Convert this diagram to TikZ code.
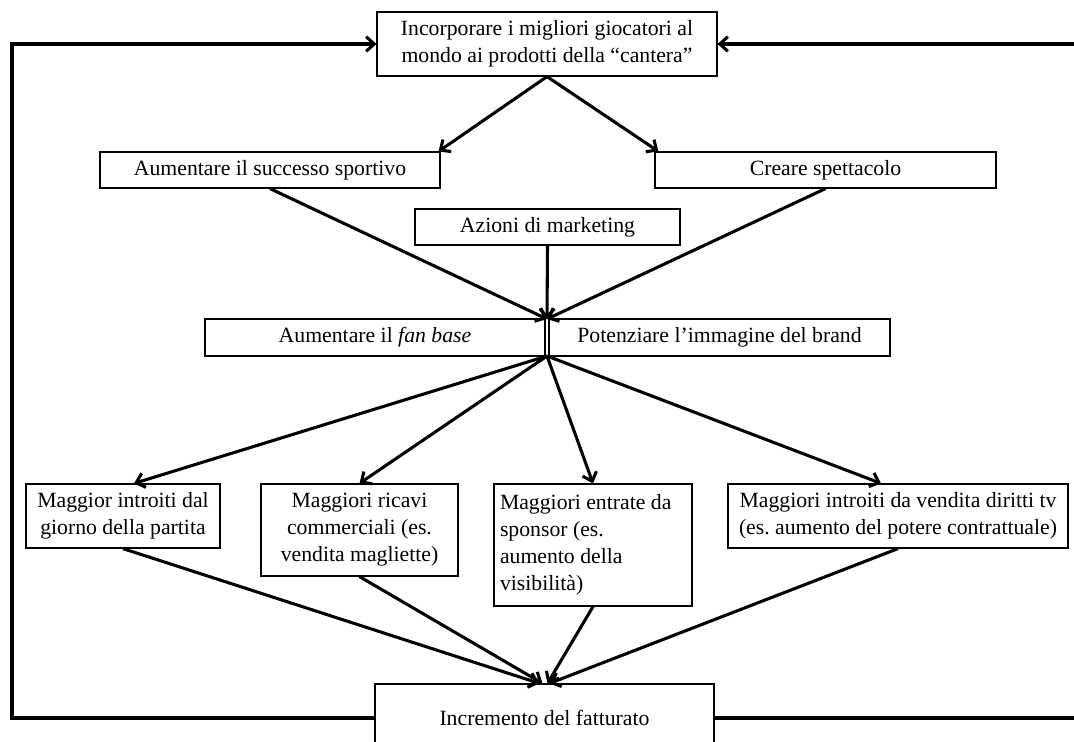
\documentclass[tikz,border=0pt]{standalone}
\usepackage{fontspec}
\setmainfont{Liberation Serif}
\usetikzlibrary{arrows.meta,calc}
\frenchspacing
\begin{document}
\begin{tikzpicture}[x=0.75pt,y=-0.75pt,
  box/.style={draw,line width=0.9pt,inner sep=0pt,align=center,
    font=\fontsize{16.3}{20.25}\selectfont\frenchspacing},
  barb/.style={-{Straight Barb[length=6pt,width=11pt]}},
  link/.style={line width=2.3pt,barb},
  loopline/.style={line width=2.3pt}]
\useasboundingbox (0,0) rectangle (1074,742);

% goal at the top
\node[box,minimum width=255pt,minimum height=48pt] (top) at (547,44)
  {Incorporare i migliori giocatori al\\mondo ai prodotti della “cantera”};

% first-level effects
\node[box,minimum width=255pt,minimum height=27pt] (succ) at (270,170)
  {Aumentare il successo sportivo};
\node[box,minimum width=255.75pt,minimum height=27pt] (show) at (825.5,170)
  {Creare spettacolo};
\node[box,minimum width=198.75pt,minimum height=27pt] (mkt) at (547.5,227)
  {Azioni di marketing};

% fan base / brand pair
\node[box,minimum width=255pt,minimum height=27.75pt] (fan) at (375,337.5)
  {Aumentare il \textit{fan base}};
\node[box,minimum width=255.75pt,minimum height=27.75pt] (brand) at (719.5,337.5)
  {Potenziare l’immagine del brand};
\coordinate (hubin) at (547,319);
\coordinate (hubout) at (547,356);

% revenue streams
\node[box,minimum width=145.5pt,minimum height=48pt] (match) at (123,516)
  {Maggior introiti dal\\giorno della partita};
\node[box,minimum width=147.75pt,minimum height=69pt] (merch) at (359.5,530)
  {Maggiori ricavi\\commerciali (es.\\vendita magliette)};
\node[box,align=flush left,inner xsep=4.5pt,text width=139.5pt,minimum height=91.5pt] (spons) at (593,545)
  {Maggiori entrate da\\sponsor (es.\\aumento della\\visibilità)};
\node[box,minimum width=255pt,minimum height=48pt] (tv) at (898,516)
  {Maggiori introiti da vendita diritti tv\\(es. aumento del potere contrattuale)};

% result
\node[box,minimum width=254.25pt,minimum height=51pt] (rev) at (544.5,718)
  {Incremento del fatturato};

% feedback loop rails
\coordinate (lrail) at (12,0);
\coordinate (rrail) at (1090,0);

% top goal to first-level effects
\draw[link] (top.south) -- ($(succ.north east)+(-2,0)$);
\draw[link] (top.south) -- ($(show.north west)+(4,0)$);

% into the fan base / brand pair
\draw[link] (succ.south) -- (hubin);
\draw[link] (show.south) -- (hubin);
\draw[link] (mkt.south) -- (hubin);

% out to the revenue streams
\draw[link] (hubout) -- ($(match.north)+(11,0)$);
\draw[link] (hubout) -- (merch.north);
\draw[link] (hubout) -- (spons.north);
\draw[link] (hubout) -- ($(tv.north)+(-17,0)$);

% revenue streams to turnover
\draw[link] (match.south) -- ($(rev.north)+(-5,0)$);
\draw[link] (merch.south) -- ($(rev.north)+(-2,0)$);
\draw[link] (spons.south) -- ($(rev.north)+(3,0)$);
\draw[link] (tv.south) -- ($(rev.north)+(5,0)$);

% feedback from turnover back to the goal
\draw[loopline,barb] (rev.west) -- (rev.west -| lrail) |- (top.west);
\draw[loopline,barb] (rev.east) -- (rev.east -| rrail) |- (top.east);
\end{tikzpicture}
\end{document}
